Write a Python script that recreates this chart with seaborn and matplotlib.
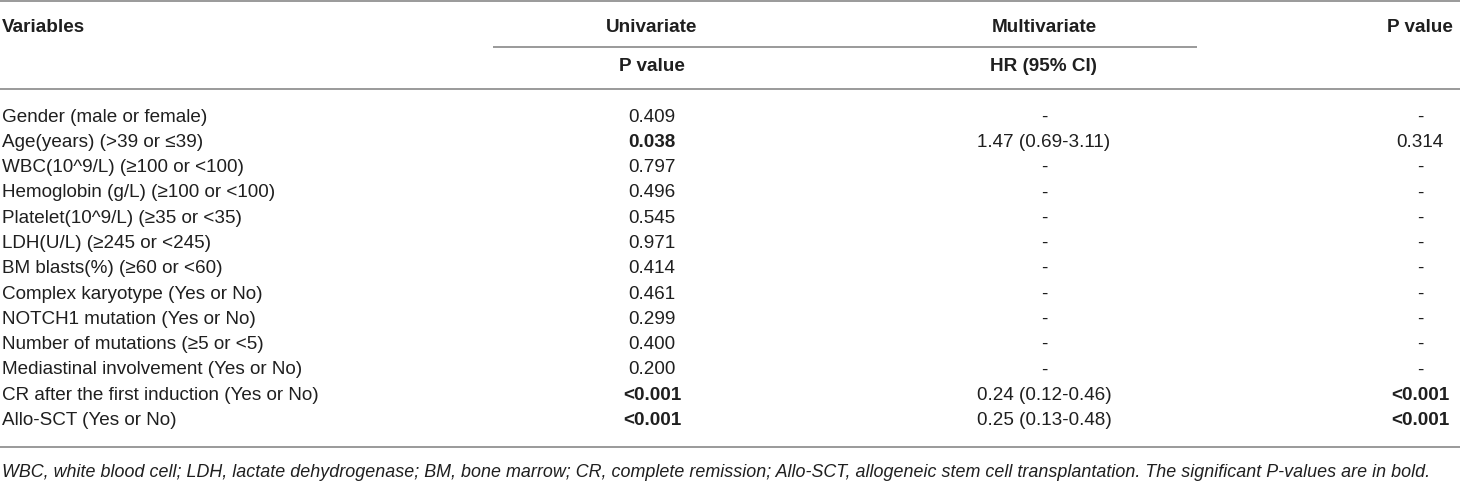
import matplotlib
matplotlib.use("Agg")
import matplotlib.pyplot as plt
import seaborn as sns

# table content
variables = [
    "Gender (male or female)",
    "Age(years) (>39 or \u226439)",
    "WBC(10^9/L) (\u2265100 or <100)",
    "Hemoglobin (g/L) (\u2265100 or <100)",
    "Platelet(10^9/L) (\u226535 or <35)",
    "LDH(U/L) (\u2265245 or <245)",
    "BM blasts(%) (\u226560 or <60)",
    "Complex karyotype (Yes or No)",
    "NOTCH1 mutation (Yes or No)",
    "Number of mutations (\u22655 or <5)",
    "Mediastinal involvement (Yes or No)",
    "CR after the first induction (Yes or No)",
    "Allo-SCT (Yes or No)",
]
uni_p = ["0.409", "0.038", "0.797", "0.496", "0.545", "0.971", "0.414",
         "0.461", "0.299", "0.400", "0.200", "<0.001", "<0.001"]
uni_bold = [False, True, False, False, False, False, False,
            False, False, False, False, True, True]
hr_ci = ["-", "1.47 (0.69-3.11)", "-", "-", "-", "-", "-",
         "-", "-", "-", "-", "0.24 (0.12-0.46)", "0.25 (0.13-0.48)"]
multi_p = ["-", "0.314", "-", "-", "-", "-", "-",
           "-", "-", "-", "-", "<0.001", "<0.001"]
multi_bold = [False, False, False, False, False, False, False,
              False, False, False, False, True, True]

header_top = ["Variables", "Univariate", "Multivariate", "P value"]
header_sub = ["", "P value", "HR (95% CI)", ""]
footnote = ("WBC, white blood cell; LDH, lactate dehydrogenase; BM, bone marrow; "
            "CR, complete remission; Allo-SCT, allogeneic stem cell transplantation. "
            "The significant P-values are in bold.")

sns.set_theme(style="white")
plt.rcParams["font.family"] = ["Liberation Sans", "DejaVu Sans"]

W, H = 1460, 499
fig = plt.figure(figsize=(W / 100, H / 100), dpi=100)
ax = fig.add_axes([0, 0, 1, 1])
ax.set_xlim(0, W)
ax.set_ylim(H, 0)
ax.axis("off")

# layout (pixels)
col_x = [2, 652, 1044, 1420]
y_head, y_sub = 27, 66
y_first, row_h = 117, 25.3
fs = 13.6
txt_col = "#1f1f1f"
line_col = "#9a9a9a"

# rules
ax.hlines(1, 0, W, color=line_col, lw=1.4)
ax.hlines(47, 493, 1197, color=line_col, lw=1.4)
ax.hlines(89, 0, W, color=line_col, lw=1.4)
y_last = y_first + row_h * (len(variables) - 1)
ax.hlines(y_last + 26, 0, W, color=line_col, lw=1.4)

# headers
for i, (t, s) in enumerate(zip(header_top, header_sub)):
    ha = "left" if i == 0 else "center"
    ax.text(col_x[i], y_head, t, ha=ha, va="center", fontsize=fs,
            fontweight="bold", color=txt_col)
    if s:
        ax.text(col_x[i], y_sub, s, ha=ha, va="center", fontsize=fs,
                fontweight="bold", color=txt_col)

# body rows
for r in range(len(variables)):
    y = y_first + r * row_h
    ax.text(col_x[0], y, variables[r], ha="left", va="center", fontsize=fs,
            color=txt_col)
    ax.text(col_x[1], y, uni_p[r], ha="center", va="center", fontsize=fs,
            fontweight="bold" if uni_bold[r] else "normal", color=txt_col)
    ax.text(col_x[2], y, hr_ci[r], ha="center", va="center", fontsize=fs,
            color=txt_col)
    ax.text(col_x[3], y, multi_p[r], ha="center", va="center", fontsize=fs,
            fontweight="bold" if multi_bold[r] else "normal", color=txt_col)

ax.text(2, y_last + 52, footnote, ha="left", va="center", fontsize=12.9,
        style="italic", color=txt_col)

fig.savefig("out.png", dpi=100)
plt.close(fig)
